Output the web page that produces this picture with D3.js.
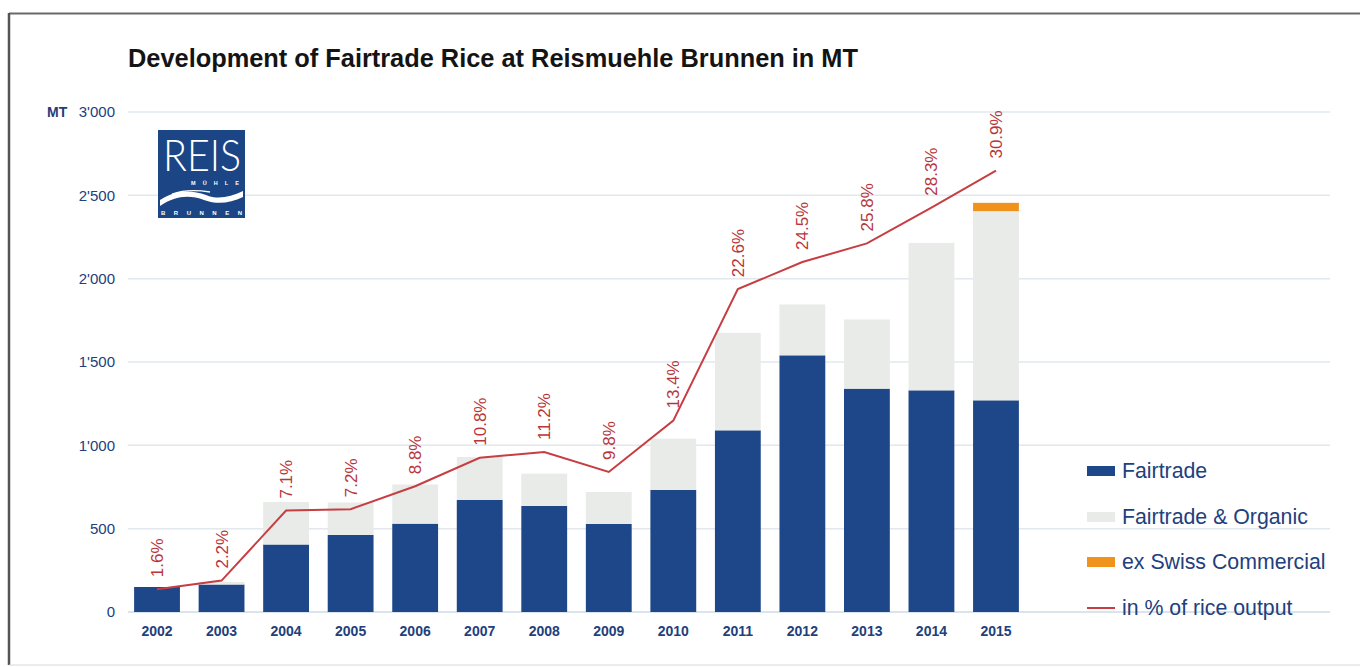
<!DOCTYPE html>
<html>
<head>
<meta charset="utf-8">
<script src="https://cdn.jsdelivr.net/npm/d3@7"></script>
<style>
  body { margin: 0; background: #fff; }
  svg { display: block; font-family: "Liberation Sans", Arial, sans-serif; }
</style>
</head>
<body>
<svg width="1360" height="667"></svg>
<script>
// data
const years = ["2002", "2003", "2004", "2005", "2006", "2007", "2008", "2009", "2010", "2011", "2012", "2013", "2014", "2015"];
const fairtrade = [150, 165, 405, 462, 530, 672, 636, 528, 732, 1090, 1540, 1340, 1330, 1270];
const organic = [0, 15, 255, 195, 235, 258, 194, 192, 308, 585, 305, 415, 885, 1135];
const exSwiss = [0, 0, 0, 0, 0, 0, 0, 0, 0, 0, 0, 0, 0, 50];
const share = [1.6, 2.2, 7.1, 7.2, 8.8, 10.8, 11.2, 9.8, 13.4, 22.6, 24.5, 25.8, 28.3, 30.9];
const yTicks = [0, 500, 1000, 1500, 2000, 2500, 3000];
const legendItems = ["Fairtrade", "Fairtrade & Organic", "ex Swiss Commercial", "in % of rice output"];

const navy = "#22407c";
const colors = { fairtrade: "#1d4788", organic: "#e8ebe7", exSwiss: "#f0931c" };
const lineColor = "#c63e42";

const svg = d3.select("svg");

// frame of the scanned page
svg.append("line").attr("x1", 9).attr("x2", 1360).attr("y1", 13.5).attr("y2", 13.5)
  .attr("stroke", "#6a6a6a").attr("stroke-width", 2);
svg.append("line").attr("x1", 9).attr("x2", 9).attr("y1", 13).attr("y2", 665)
  .attr("stroke", "#555").attr("stroke-width", 2.5);
svg.append("line").attr("x1", 9).attr("x2", 1360).attr("y1", 665).attr("y2", 665)
  .attr("stroke", "#d8d8d8").attr("stroke-width", 1);

svg.append("text")
  .attr("x", 128).attr("y", 67)
  .attr("font-size", 25).attr("font-weight", "bold").attr("fill", "#141414")
  .attr("textLength", 730).attr("lengthAdjust", "spacingAndGlyphs")
  .text("Development of Fairtrade Rice at Reismuehle Brunnen in MT");

const x = d3.scaleBand().domain(years).range([124.75, 1028.25]).paddingInner(0.29).paddingOuter(0.145);
const y = d3.scaleLinear().domain([0, 3000]).range([612, 112]);
const y2 = d3.scaleLinear().domain([0, 35]).range([612, 112]);

// grid
svg.append("g").selectAll("line").data(yTicks).join("line")
  .attr("x1", 128).attr("x2", 1330)
  .attr("y1", d => y(d)).attr("y2", d => y(d))
  .attr("stroke", d => d === 0 ? "#cddbe8" : "#e2e8ee")
  .attr("stroke-width", 1.5);

// y axis labels
const yAxis = svg.append("g").attr("transform", "translate(117,0)")
  .call(d3.axisLeft(y).tickValues(yTicks).tickSize(0).tickPadding(2)
    .tickFormat(d => d === 0 ? "0" : d3.format(",")(d).replace(",", "'")));
yAxis.select(".domain").remove();
yAxis.selectAll("text").attr("font-size", 15).attr("fill", navy)
  .attr("font-family", "Liberation Sans, Arial, sans-serif");

svg.append("text").attr("x", 47).attr("y", 117).attr("font-size", 14).attr("font-weight", "bold")
  .attr("fill", navy).text("MT");

// logo
const logo = svg.append("g").attr("transform", "translate(158,130)");
logo.append("rect").attr("width", 87).attr("height", 88).attr("fill", "#1b4584");
logo.append("text").attr("x", 5).attr("y", 41).attr("font-size", 44)
  .attr("font-family", "Lato, 'Open Sans', sans-serif").attr("font-weight", 300)
  .attr("fill", "#fff").attr("textLength", 78).attr("lengthAdjust", "spacingAndGlyphs").text("REIS");
logo.append("text").attr("x", 33).attr("y", 55).attr("font-size", 5.5).attr("font-weight", "bold")
  .attr("fill", "#fff").attr("textLength", 48).text("MÜHLE");
logo.append("path").attr("fill", "#fff")
  .attr("d", "M2,70 C18,59 34,60 48,65 C60,70 72,67 85,61 L85,67 C72,73 60,75 46,70 C32,65 18,65 2,76 Z");
logo.append("path").attr("fill", "none").attr("stroke", "#fff").attr("stroke-width", 1.3)
  .attr("d", "M14,64 C28,59 40,60 52,62");
logo.append("text").attr("x", 3).attr("y", 85).attr("font-size", 6).attr("font-weight", "bold")
  .attr("fill", "#fff").attr("textLength", 81).text("BRUNNEN");

// stacked bars
const rows = years.map((yr, i) => ({ year: yr, fairtrade: fairtrade[i], organic: organic[i], exSwiss: exSwiss[i] }));
const keys = ["fairtrade", "organic", "exSwiss"];
const stacked = d3.stack().keys(keys)(rows);

svg.append("g").selectAll("g").data(stacked).join("g")
  .attr("fill", d => colors[d.key])
  .selectAll("rect").data(d => d).join("rect")
  .attr("x", d => x(d.data.year))
  .attr("width", x.bandwidth())
  .attr("y", d => y(d[1]))
  .attr("height", d => y(d[0]) - y(d[1]));

// x labels
svg.append("g").selectAll("text").data(years).join("text")
  .attr("x", d => x(d) + x.bandwidth() / 2).attr("y", 636)
  .attr("text-anchor", "middle").attr("font-size", 14).attr("font-weight", "bold").attr("fill", navy)
  .text(d => d);

// share line
const pts = years.map((yr, i) => [x(yr) + x.bandwidth() / 2, y2(share[i])]);
svg.append("path")
  .attr("d", d3.line()(pts))
  .attr("fill", "none").attr("stroke", lineColor).attr("stroke-width", 2);

svg.append("g").selectAll("text").data(share).join("text")
  .attr("transform", (d, i) => `translate(${pts[i][0]},${pts[i][1] - 12}) rotate(-90)`)
  .attr("dy", "0.35em")
  .attr("font-size", 17).attr("fill", "#b8363b")
  .text(d => d.toFixed(1) + "%");

// legend
const leg = svg.append("g").attr("transform", "translate(1087,0)");
const legY = [471, 517, 562, 608];
const legColors = [colors.fairtrade, colors.organic, colors.exSwiss];
legendItems.forEach((name, i) => {
  if (i < 3) {
    leg.append("rect").attr("x", 0).attr("y", legY[i] - 5).attr("width", 28).attr("height", 10)
      .attr("fill", legColors[i]);
  } else {
    leg.append("line").attr("x1", 0).attr("x2", 28).attr("y1", legY[i]).attr("y2", legY[i])
      .attr("stroke", lineColor).attr("stroke-width", 2);
  }
  leg.append("text").attr("x", 35).attr("y", legY[i]).attr("dy", "0.35em")
    .attr("font-size", 21.3).attr("fill", navy).text(name);
});
</script>
</body>
</html>
